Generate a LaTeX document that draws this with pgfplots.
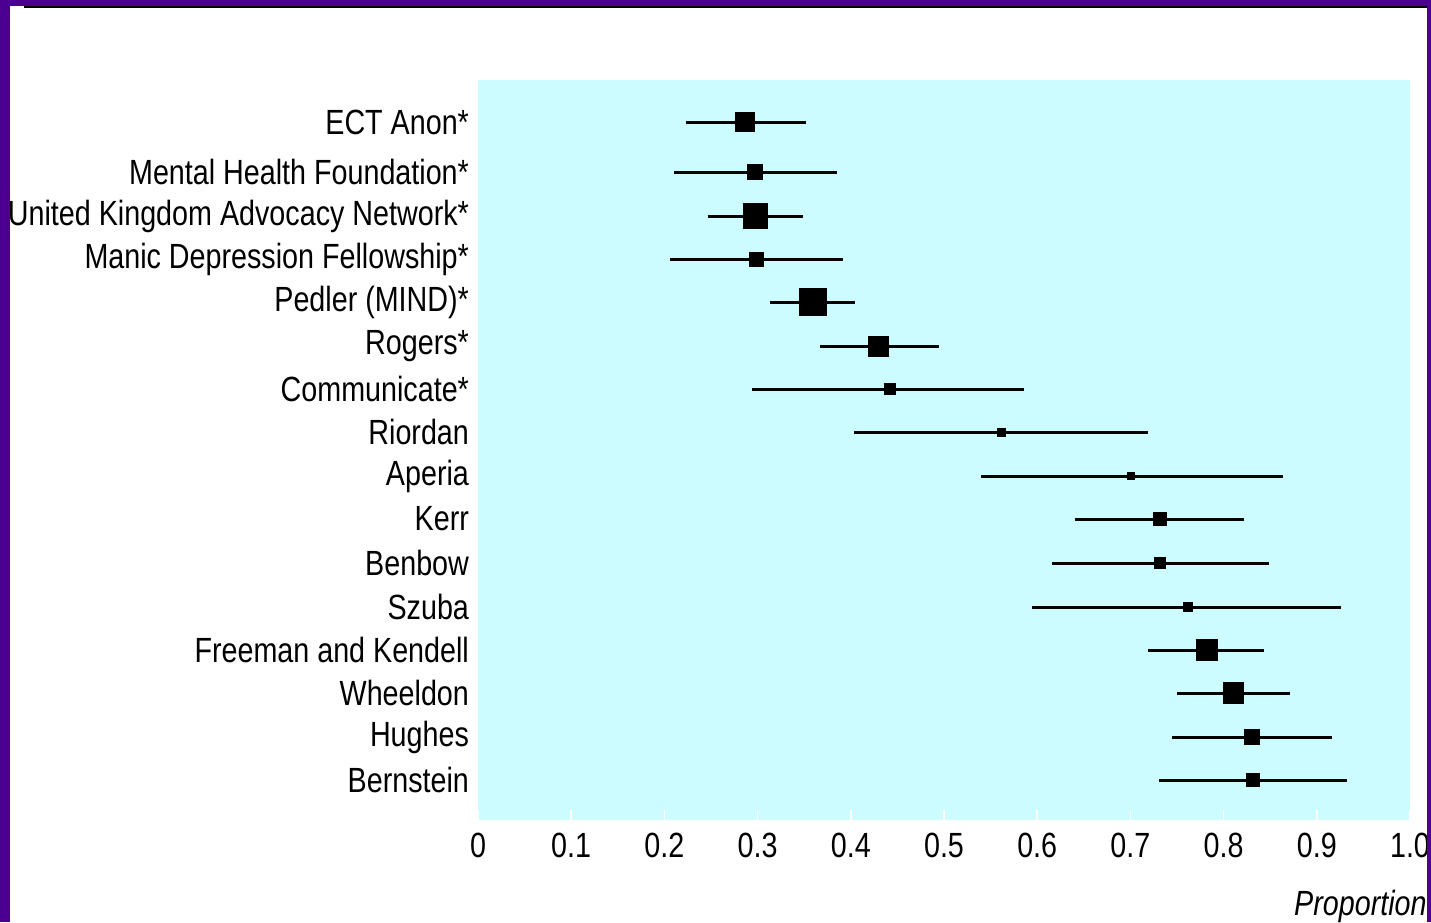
\documentclass[border=0pt]{standalone}
\usepackage{pgfplots}
\pgfplotsset{compat=1.18}
\usepackage{pgfplotstable}
\usepackage{fontspec}
\setmainfont{Liberation Sans}[FakeStretch=0.82]
\definecolor{frame}{RGB}{75,0,145}
\definecolor{panel}{RGB}{204,252,255}
\newcommand\lab{\fontsize{17.5}{21}\selectfont}

% y = row position, est = proportion, lo/hi = interval, size = square side
\pgfplotstableread{
y   est    lo     hi     size
122 0.2865 0.2229 0.3516 20
172 0.2972 0.2100 0.3849 16
216 0.2977 0.2465 0.3490 25.6
259 0.2991 0.2060 0.3913 15
302 0.3592 0.3133 0.4048 27.7
346 0.4300 0.3673 0.4943 21
389 0.4415 0.2940 0.5858 11.8
432 0.5612 0.4030 0.7188 9
476 0.7006 0.5397 0.8637 8
519 0.7318 0.6406 0.8219 13.5
563 0.7318 0.6159 0.8487 12
607 0.7618 0.5944 0.9260 9.6
650 0.7817 0.7189 0.8433 21.7
693 0.8104 0.7500 0.8712 21.3
737 0.8305 0.7446 0.9163 15.7
780 0.8315 0.7307 0.9324 14.3
}\studies

\begin{document}
\begin{tikzpicture}[x=1pt,y=1pt]
\useasboundingbox (0,0) rectangle (715.5,461);
\fill[white] (0,0) rectangle (715.5,461);
\begin{axis}[
    at={(472pt,236pt)}, anchor=center,
    scale only axis, width=466pt, height=370pt,
    xmin=0, xmax=1, ymin=80, ymax=820, y dir=reverse,
    axis background/.style={fill=panel},
    axis line style={draw=none},
    xtick={0,0.1,0.2,0.3,0.4,0.5,0.6,0.7,0.8,0.9,1},
    xticklabels={0,0.1,0.2,0.3,0.4,0.5,0.6,0.7,0.8,0.9,1.0},
    xtick pos=bottom, tick align=inside, major tick length=5pt,
    xtick style={white, line width=0.8pt},
    ytick={122,172,216,259,302,346,389,432,476,519,563,607,650,693,737,780},
    yticklabels={ECT Anon*, Mental Health Foundation*, United Kingdom Advocacy Network*,
      Manic Depression Fellowship*, Pedler (MIND)*, Rogers*, Communicate*, Riordan,
      Aperia, Kerr, Benbow, Szuba, Freeman and Kendell, Wheeldon, Hughes, Bernstein},
    ytick style={draw=none},
    tick label style={font=\lab},
    xticklabel style={yshift=-3pt},
    yticklabel style={xshift=-1pt},
    clip=false,
  ]
  \addplot[scatter, only marks, mark=square*,
    scatter/use mapped color={draw=black, fill=black},
    visualization depends on={\thisrow{size}*0.25-0.2 \as \msize},
    scatter/@pre marker code/.append style={/tikz/mark size=\msize},
    error bars/.cd, x dir=both, x explicit, error mark=none,
    error bar style={line width=1.5pt, black}]
    table[x=est, y=y,
      x error plus expr={\thisrow{hi}-\thisrow{est}},
      x error minus expr={\thisrow{est}-\thisrow{lo}}] {\studies};
\end{axis}
\node[anchor=base east, font=\lab\itshape, inner sep=0pt] at (713.5,3.5) {Proportion};
\fill[frame] (0,0) rectangle (5,461);
\fill[frame] (713.5,0) rectangle (715.5,461);
\fill[frame] (0,458) rectangle (715.5,461);
\fill[black] (12,457) rectangle (713.5,458);
\end{tikzpicture}
\end{document}
